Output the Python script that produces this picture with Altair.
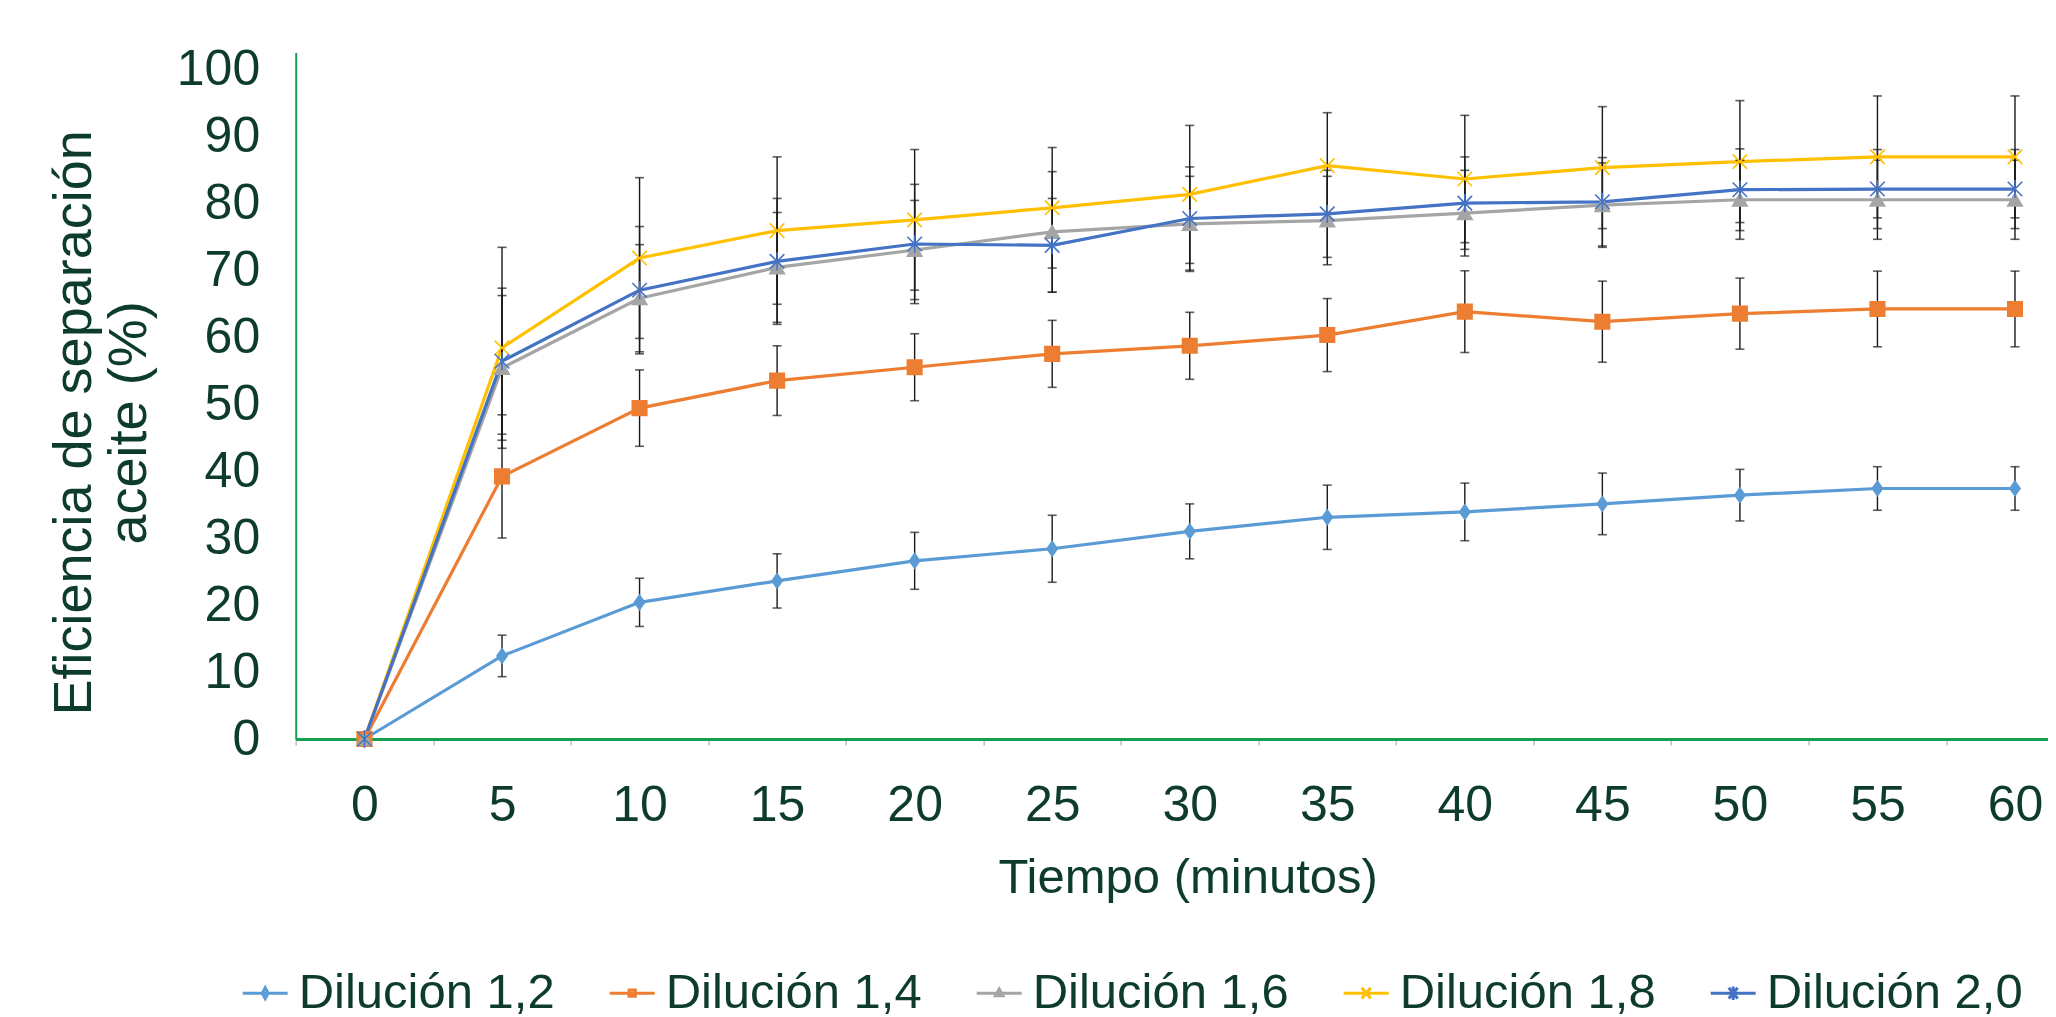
import altair as alt
import pandas as pd

# ---- data ----
tiempo = [0, 5, 10, 15, 20, 25, 30, 35, 40, 45, 50, 55, 60]
series = ["Dilución 1,2", "Dilución 1,4", "Dilución 1,6", "Dilución 1,8", "Dilución 2,0"]

d12 = [0, 12.4, 20.4, 23.6, 26.6, 28.4, 31.0, 33.1, 33.9, 35.1, 36.4, 37.4, 37.4]
e12 = [0, 3.1, 3.6, 4.05, 4.25, 5.0, 4.1, 4.8, 4.3, 4.6, 3.85, 3.25, 3.25]
d14 = [0, 39.2, 49.4, 53.5, 55.5, 57.5, 58.7, 60.3, 63.8, 62.3, 63.5, 64.2, 64.2]
e14 = [0, 9.2, 5.7, 5.2, 5.0, 5.0, 5.0, 5.45, 6.1, 6.05, 5.3, 5.65, 5.65]
d16 = [0, 55.4, 65.8, 70.4, 73.0, 75.7, 76.9, 77.4, 78.5, 79.7, 80.5, 80.5, 80.5]
e16 = [0, 10.8, 8.0, 8.2, 7.4, 9.0, 7.1, 6.6, 6.4, 6.3, 5.9, 5.9, 5.9]
d18 = [0, 58.4, 71.8, 75.9, 77.5, 79.3, 81.3, 85.6, 83.6, 85.3, 86.2, 86.9, 86.9]
e18 = [0, 15.0, 12.0, 11.0, 10.5, 9.0, 10.3, 7.9, 9.5, 9.1, 9.1, 9.1, 9.1]
d20 = [0, 56.4, 67.0, 71.3, 73.9, 73.7, 77.7, 78.4, 80.0, 80.2, 82.0, 82.1, 82.1]
e20 = [0, 10.9, 9.5, 9.4, 8.9, 7.0, 7.7, 6.5, 6.9, 6.6, 6.1, 5.9, 5.9]

y_ticks = [0, 10, 20, 30, 40, 50, 60, 70, 80, 90, 100]
x_bounds = [-2.5, 2.5, 7.5, 12.5, 17.5, 22.5, 27.5, 32.5, 37.5, 42.5, 47.5, 52.5, 57.5]

# ---- styles ----
colores = ["#5B9BD5", "#ED7D31", "#A5A5A5", "#FFC000", "#4472C4"]
rellenos = ["#5B9BD5", "#ED7D31", "#A5A5A5", "transparent", "transparent"]
formas = [
    "M0,-1L0.7,0L0,1L-0.7,0Z",
    "square",
    "triangle-up",
    "M-1,-1L1,1M-1,1L1,-1",
    "M-1,-1L1,1M-1,1L1,-1M0,-1.25L0,1.25",
]
formas_leyenda = [
    "M-1,0L1,0M0,-0.24L0.13,0L0,0.24L-0.13,0Z",
    "M-1,0L1,0M-0.14,-0.14L0.14,-0.14L0.14,0.14L-0.14,0.14Z",
    "M-1,0L1,0M0,-0.18L0.17,0.12L-0.17,0.12Z",
    "M-1,0L1,0M-0.2,-0.24L0.2,0.24M-0.2,0.24L0.2,-0.24",
    "M-1,0L1,0M-0.2,-0.24L0.2,0.24M-0.2,0.24L0.2,-0.24M0,-0.3L0,0.3",
]
TXT = "#0D3B2E"
GREEN = "#14A04F"
FONT = "Liberation Sans"

rows = []
for s, vals, errs in zip(series, [d12, d14, d16, d18, d20], [e12, e14, e16, e18, e20]):
    for t, v, e in zip(tiempo, vals, errs):
        rows.append({"serie": s, "t": t, "v": v, "e": e, "lo": v - e, "hi": v + e})
df = pd.DataFrame(rows)

x_scale = alt.Scale(domain=[-2.5, 61.2], nice=False, zero=False)
y_scale = alt.Scale(domain=[0, 102.5], nice=False, zero=False)

x_axis = alt.Axis(
    values=x_bounds,
    labelExpr="format(datum.value + 2.5, 'd')",
    labelOffset=68.8,
    tickSize=6, tickColor="#BFBFBF", tickWidth=1.5,
    domainColor=GREEN, domainWidth=3,
    labelFontSize=50, labelColor=TXT, labelFont=FONT,
    labelBaseline="alphabetic", labelPadding=75,
    labelOverlap=False, labelBound=False, labelFlush=False,
    grid=False,
    title="Tiempo (minutos)", titleFontSize=49, titleFontWeight="normal",
    titleColor=TXT, titleFont=FONT, titleX=892, titleY=153.5,
    titleBaseline="alphabetic", titleAlign="center",
)
y_axis = alt.Axis(
    values=y_ticks, ticks=False, tickSize=0, labelPadding=36,
    domainColor=GREEN, domainWidth=2, grid=False,
    labelFontSize=50, labelColor=TXT, labelFont=FONT,
    title=["Eficiencia de separación", "aceite (%)"],
    titleFontSize=54, titleFontWeight="normal", titleColor=TXT, titleFont=FONT,
    titleAngle=270, titleX=-221, titleY=370, titleAlign="center",
    titleBaseline="middle", titleLineHeight=55,
)

base = alt.Chart(df)
X = alt.X("t:Q", scale=x_scale, axis=x_axis)
Y = alt.Y("v:Q", scale=y_scale, axis=y_axis)

lines = base.mark_line(strokeWidth=3.2).encode(
    x=X, y=Y,
    color=alt.Color("serie:N", scale=alt.Scale(domain=series, range=colores), legend=None),
    order="t:Q",
)

eb = base.transform_filter("datum.e > 0")
rules = eb.mark_rule(color="#1A1A1A", strokeWidth=1.4).encode(
    x="t:Q", y="lo:Q", y2="hi:Q"
)
caps_lo = eb.mark_tick(orient="horizontal", color="#1A1A1A", size=9, thickness=1.6).encode(
    x="t:Q", y="lo:Q"
)
caps_hi = eb.mark_tick(orient="horizontal", color="#1A1A1A", size=9, thickness=1.6).encode(
    x="t:Q", y="hi:Q"
)

points = base.mark_point(size=210, strokeWidth=1.6, opacity=1).encode(
    x="t:Q", y="v:Q",
    shape=alt.Shape("serie:N", scale=alt.Scale(domain=series, range=formas), legend=None),
    fill=alt.Fill("serie:N", scale=alt.Scale(domain=series, range=rellenos), legend=None),
    stroke=alt.Stroke("serie:N", scale=alt.Scale(domain=series, range=colores), legend=None),
)

leg = alt.Legend(
    orient="none", legendX=-55, legendY=916, direction="horizontal", columns=5,
    title=None, symbolSize=2025, symbolStrokeWidth=3, labelFontSize=49,
    labelColor=TXT, labelFont=FONT, labelOffset=9, columnPadding=48,
    padding=0, labelLimit=0,
)
legend_layer = base.transform_filter("false").mark_point(
    filled=False, size=2025, strokeWidth=3, opacity=1
).encode(
    x="t:Q", y="v:Q",
    color=alt.Color("serie:N", scale=alt.Scale(domain=series, range=colores), legend=leg),
    shape=alt.Shape("serie:N", scale=alt.Scale(domain=series, range=formas_leyenda), legend=leg),
)

chart = alt.layer(lines, rules, caps_lo, caps_hi, points, legend_layer).resolve_scale(
    color="independent", shape="independent", fill="independent", stroke="independent"
).properties(
    width=1752.3, height=686.6,
    autosize=alt.AutoSizeParams(type="none"),
    padding={"left": 287.7, "top": 44.4, "right": 0, "bottom": 278},
    background="white",
).configure_view(stroke=None)

chart.save("out.html", embed_options={"renderer": "svg", "actions": False})
